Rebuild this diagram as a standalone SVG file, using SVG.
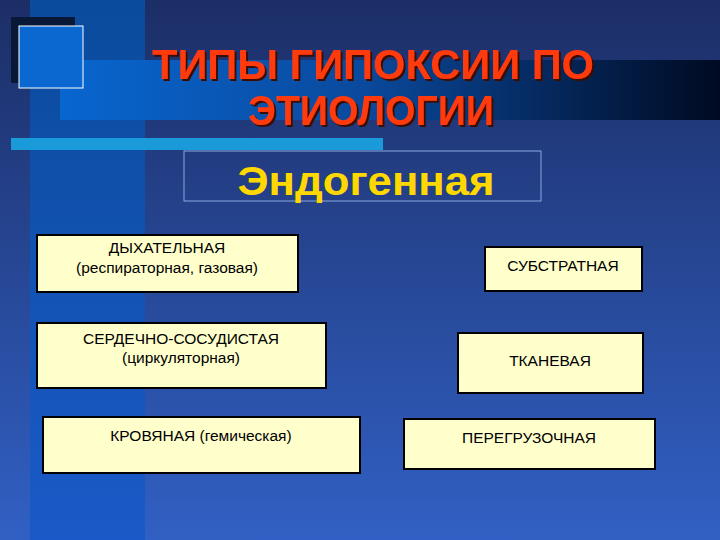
<svg xmlns="http://www.w3.org/2000/svg" width="720" height="540" viewBox="0 0 720 540">
<defs>
<linearGradient id="bg" x1="0" y1="0" x2="0" y2="1"><stop offset="0" stop-color="#1c2e66"/><stop offset="1" stop-color="#3160c4"/></linearGradient>
<linearGradient id="vb" x1="0" y1="0" x2="0" y2="1"><stop offset="0" stop-color="#0a4b9c"/><stop offset="1" stop-color="#1a5ac8"/></linearGradient>
<linearGradient id="hb" x1="0" y1="0" x2="1" y2="0"><stop offset="0" stop-color="#0866d0"/><stop offset="0.45" stop-color="#0a4a9e"/><stop offset="1" stop-color="#000a22"/></linearGradient>
<filter id="ds" x="-10%" y="-20%" width="120%" height="140%"><feDropShadow dx="2" dy="2" stdDeviation="0.5" flood-color="#3a0a00"/></filter>
<style>
.box{fill:#ffffcc;stroke:#000;stroke-width:2}
.t{font-family:"Liberation Sans",Arial,sans-serif;font-size:15.5px;fill:#000;text-anchor:middle}
.ti{font-family:"Liberation Sans",Arial,sans-serif;font-size:42px;font-weight:bold;fill:#ff3a10;text-anchor:middle}
</style>
</defs>
<rect width="720" height="540" fill="url(#bg)"/>
<rect x="30" y="0" width="115" height="540" fill="url(#vb)"/>
<rect x="60" y="60" width="660" height="60" fill="url(#hb)"/>
<rect x="11" y="17" width="64" height="66" fill="#0a1838"/>
<rect x="19" y="26" width="64" height="62" fill="#0a68d0" stroke="#ffffff" stroke-width="1"/>
<rect x="11" y="138" width="372" height="12" fill="#1a9ad8"/>
<g id="title" filter="url(#ds)">
<text class="ti" x="373" y="79" textLength="442" lengthAdjust="spacingAndGlyphs">ТИПЫ  ГИПОКСИИ  ПО</text>
<text class="ti" x="371" y="125" textLength="246" lengthAdjust="spacingAndGlyphs">ЭТИОЛОГИИ</text>
</g>
<g id="endo">
<rect x="184" y="151" width="357" height="50" fill="none" stroke="#8aa8e0" stroke-width="1"/>
<text x="366" y="195" font-family="Liberation Sans,Arial,sans-serif" font-size="40" font-weight="bold" fill="#ffd800" text-anchor="middle" textLength="257" lengthAdjust="spacingAndGlyphs">Эндогенная</text>
</g>
<g id="n1"><rect class="box" x="37" y="235" width="261" height="57"/><text class="t" x="167" y="253">ДЫХАТЕЛЬНАЯ</text><text class="t" x="167" y="273">(респираторная, газовая)</text></g>
<g id="n2"><rect class="box" x="37" y="323" width="289" height="65"/><text class="t" x="181" y="344">СЕРДЕЧНО-СОСУДИСТАЯ</text><text class="t" x="181" y="363">(циркуляторная)</text></g>
<g id="n3"><rect class="box" x="43" y="417" width="317" height="56"/><text class="t" x="201" y="441">КРОВЯНАЯ (гемическая)</text></g>
<g id="n4"><rect class="box" x="485" y="247" width="157" height="44"/><text class="t" x="563" y="271">СУБСТРАТНАЯ</text></g>
<g id="n5"><rect class="box" x="458" y="333" width="185" height="60"/><text class="t" x="550" y="366">ТКАНЕВАЯ</text></g>
<g id="n6"><rect class="box" x="404" y="419" width="251" height="50"/><text class="t" x="529" y="443">ПЕРЕГРУЗОЧНАЯ</text></g>
<g id="connectors"/>
</svg>
